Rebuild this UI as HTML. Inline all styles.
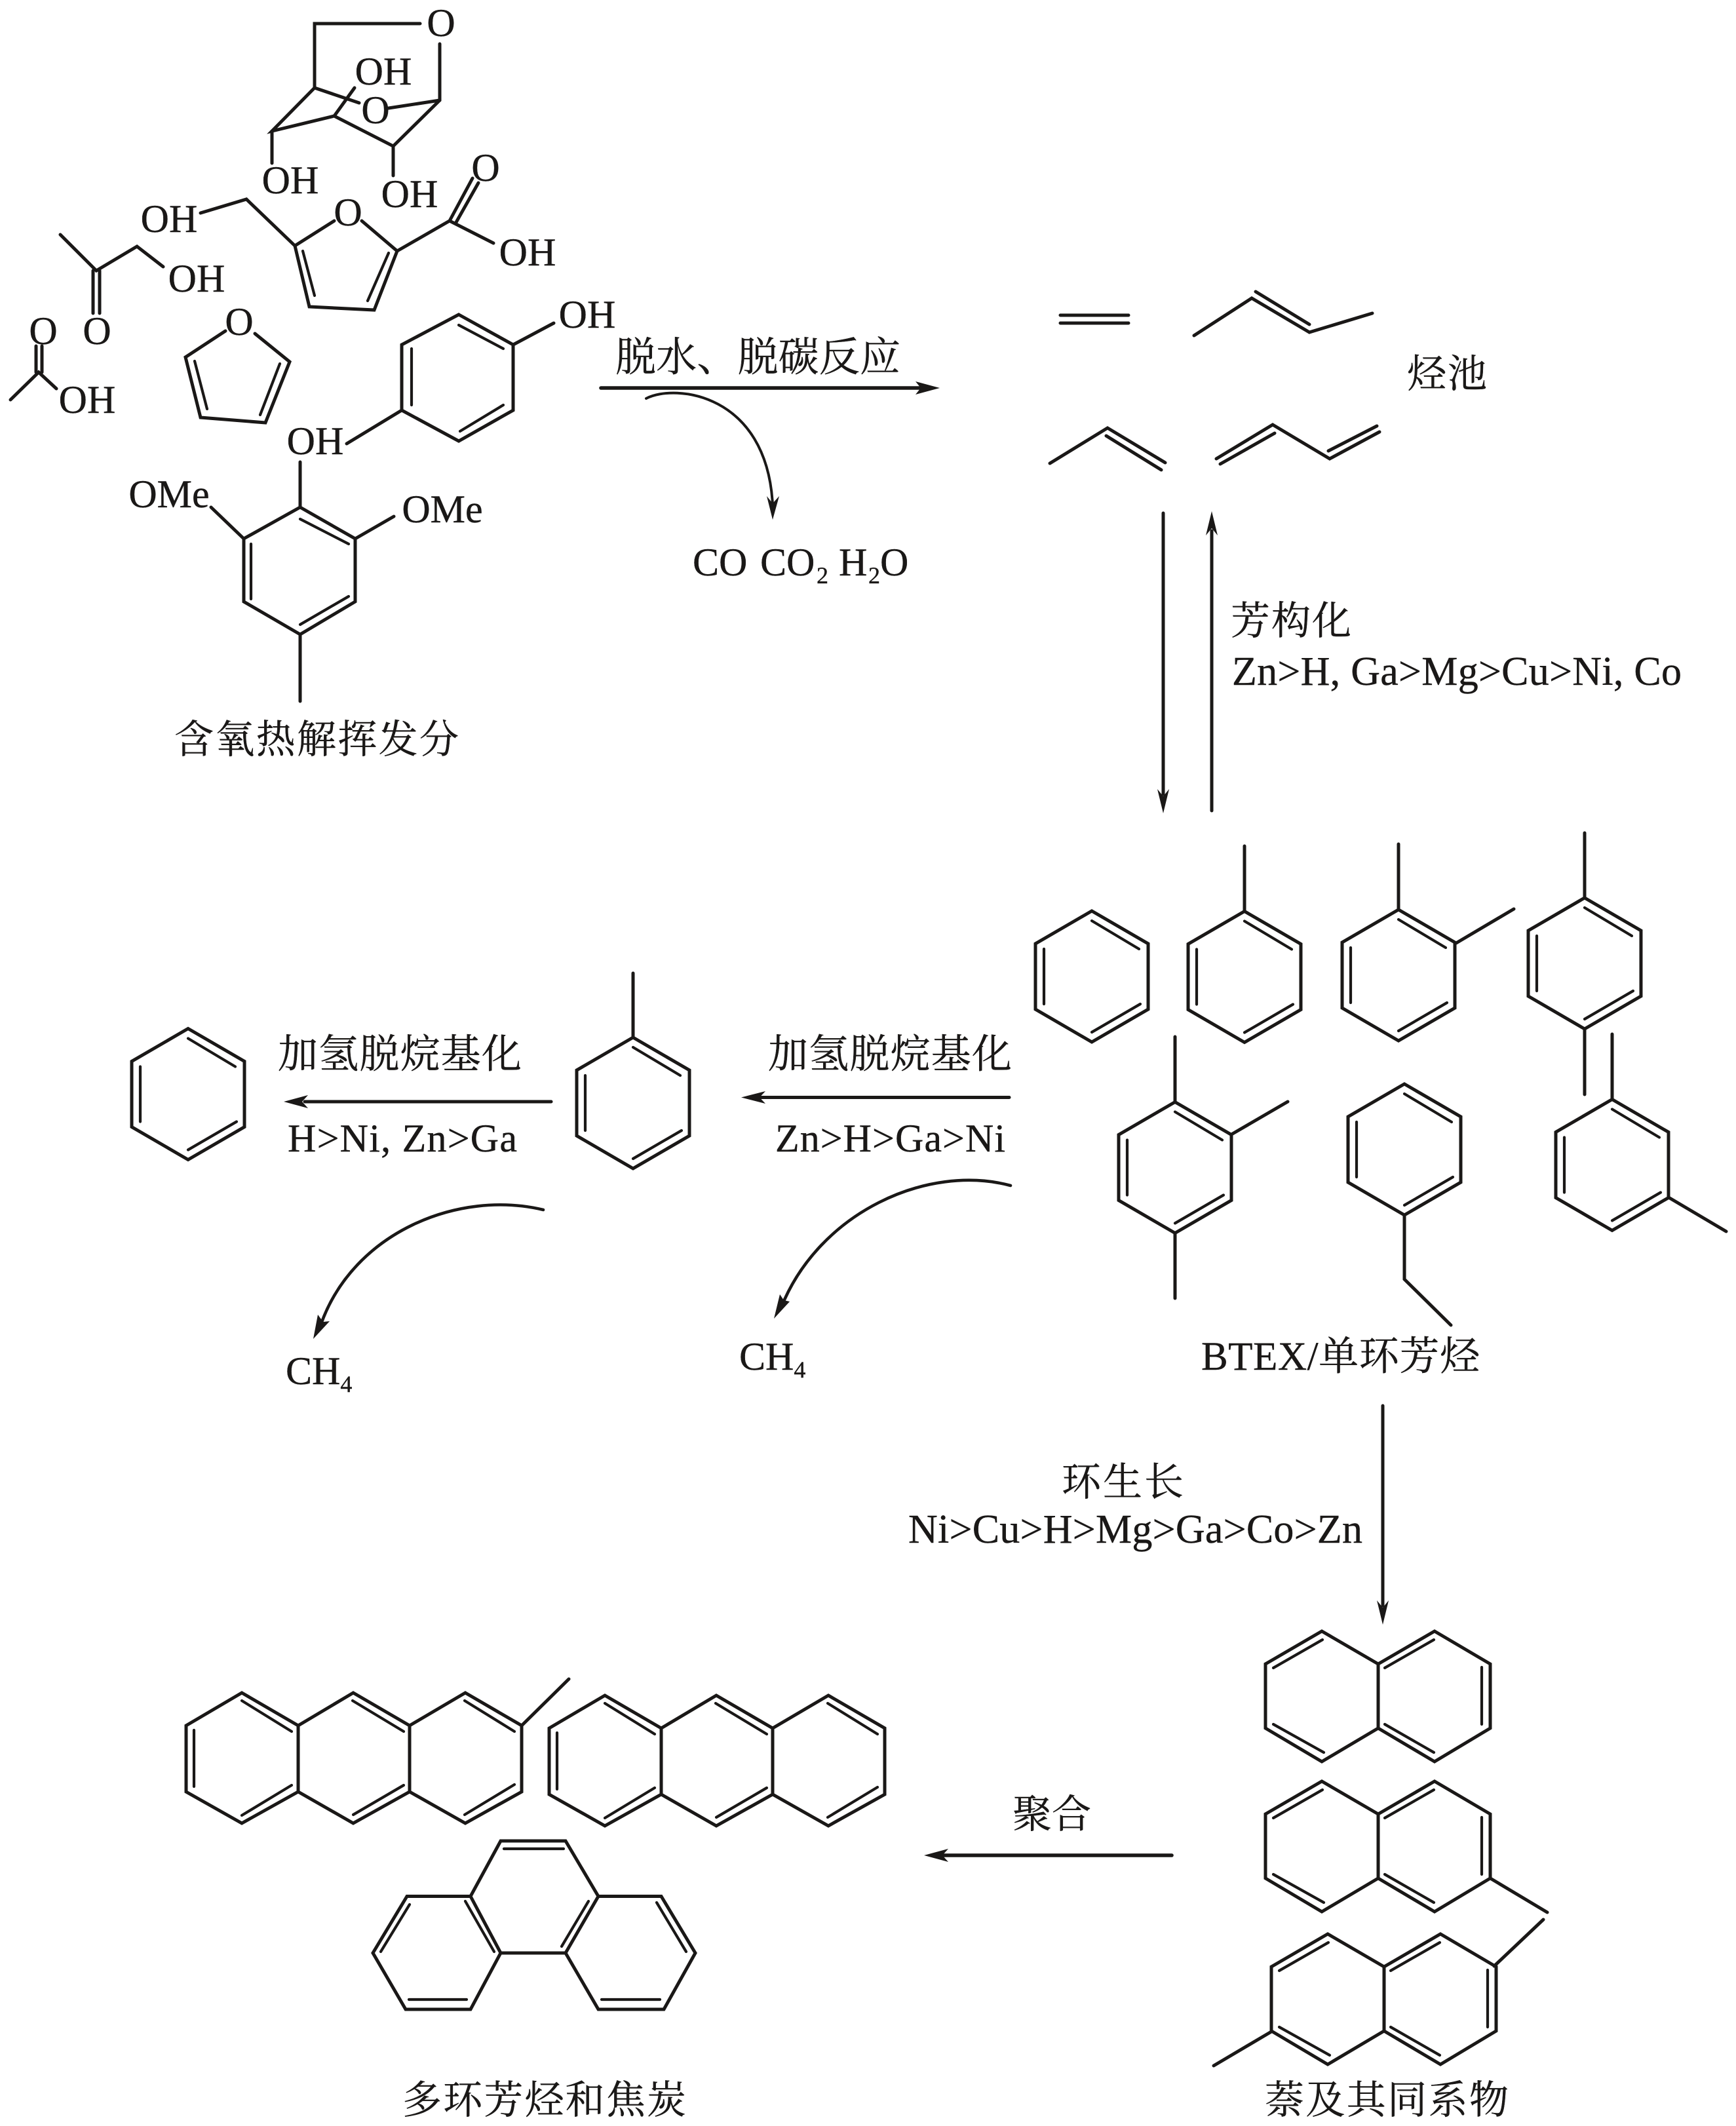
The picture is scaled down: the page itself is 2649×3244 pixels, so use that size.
<!DOCTYPE html>
<html lang="zh">
<head>
<meta charset="utf-8">
<title>Reaction pathway</title>
<style>
html,body{margin:0;padding:0;background:#fff;width:2649px;height:3244px;overflow:hidden}
svg{display:block}
text{font-family:"Liberation Serif","Noto Serif CJK SC",serif;font-size:60px;fill:#1a1817;stroke:#1a1817;stroke-width:.4}
.m{text-anchor:middle}
.s,.s *{fill:none;stroke:#1a1817;stroke-width:5;stroke-linecap:round;stroke-linejoin:miter}
.s .i,.i{stroke-width:4.2}
.h{fill:#1a1817;stroke:none}
</style>
</head>
<body>
<svg xmlns="http://www.w3.org/2000/svg" width="2649" height="3244" viewBox="0 0 2649 3244">
<rect width="2649" height="3244" fill="#fff"/>
<defs>
<g id="hex" class="s">
<path d="M0 -100L86 -50V50L0 100L-86 50V-50Z"/>
<path class="i" d="M0 -85L72 -42M-73 -42V42M0 85L74 42"/>
</g>
<g id="nap" class="s">
<path d="M-172 -49L-86 -99L0 -49L86 -99L171 -49V49L86 100L0 49L-86 100L-172 49ZM0 -49V49"/>
<path class="i" d="M-160 -43L-85 -86M-160 43L-83 86M10 -43L85 -86M158 -44V43M10 43L85 86"/>
</g>
<g id="ant" class="s">
<path d="M284 2633L369 2583L455 2633L539 2583L625 2633L710 2583L796 2633V2734L710 2782L625 2734L539 2782L455 2734L369 2782L284 2734ZM455 2633V2734M625 2633V2734"/>
<path class="i" d="M296 2640V2726M369 2595L445 2642M369 2770L445 2724M538 2595L616 2642M539 2769L616 2724M709 2595L785 2642M709 2769L785 2723"/>
</g>
</defs>

<!-- levoglucosan -->
<g class="s">
<path d="M641 36H480V134L415 200L510 177L600 223L671 153V67"/>
<path d="M671 153L593 165M480 134L548 157M510 177L541 134M415 200V249M600 223V268"/>
</g>
<text class="m" x="673" y="55">O</text>
<text class="m" x="585" y="129">OH</text>
<text class="m" x="573" y="188">O</text>
<text class="m" x="443" y="295">OH</text>
<text class="m" x="625" y="316">OH</text>

<!-- hydroxymethyl furoic acid -->
<g class="s">
<path d="M306 325L376 304L450 375L510 337M552 337L606 383L571 473L472 468L450 375"/>
<path class="i" d="M462 383L480 451M593 386L561 459"/>
<path d="M606 383L686 337L753 371M686 337L721 272M695 341L730 279"/>
</g>
<text class="m" x="258" y="354">OH</text>
<text class="m" x="531" y="344">O</text>
<text class="m" x="741" y="276">O</text>
<text class="m" x="805" y="405">OH</text>

<!-- hydroxyacetone -->
<g class="s"><path d="M92 358L147 413L209 376L249 407M142 413V478M152 413V478"/></g>
<text class="m" x="300" y="445">OH</text>
<text class="m" x="148" y="525">O</text>

<!-- acetic acid -->
<g class="s"><path d="M16 610L59 568L86 593M55 528V568M64 528V568"/></g>
<text class="m" x="66" y="525">O</text>
<text class="m" x="133" y="630">OH</text>

<!-- furan -->
<g class="s">
<path d="M344 505L283 545L306 637L405 645L442 552L389 509"/>
<path class="i" d="M297 551L316 624M427 555L397 633"/>
</g>
<text class="m" x="365" y="511">O</text>

<!-- phenol -->
<g class="s">
<path d="M700 480L783 526V626L700 673L613 626V526ZM783 526L845 493M613 626L529 677"/>
<path class="i" d="M700 496L768 532M628 532V618M702 658L768 618"/>
</g>
<text class="m" x="896" y="500">OH</text>
<text class="m" x="481" y="693">OH</text>

<!-- syringol -->
<g class="s">
<path d="M458 774L542 822V918L458 968L372 918V822ZM458 705V774M372 822L322 774M542 822L601 788M458 968V1070"/>
<path class="i" d="M458 792L532 830M383 830V914M458 953L532 910"/>
</g>
<text class="m" x="258" y="774">OMe</text>
<text class="m" x="675" y="797">OMe</text>
<text x="266" y="1149" textLength="434">含氧热解挥发分</text>

<!-- main arrow -->
<path class="s" style="stroke-width:5.6" d="M917 592H1405"/>
<path class="h" d="M1434 592L1397 582L1405 592L1397 602Z"/>
<text x="939" y="566" style="font-size:62px" textLength="435">脱水、脱碳反应</text>
<path class="s" style="stroke-width:4" d="M986 608C1030 585 1170 600 1179 770"/>
<path class="h" d="M1179 793L1170 757L1179 768L1189 757Z"/>
<text y="878" x="1057">CO<tspan x="1160">CO</tspan><tspan x="1246" y="890" style="font-size:36px">2</tspan><tspan x="1280" y="878">H</tspan><tspan x="1325" y="890" style="font-size:36px">2</tspan><tspan x="1343" y="878">O</tspan></text>

<!-- alkenes -->
<g class="s">
<path d="M1618 481H1722M1618 493H1722"/>
<path d="M1822 512L1910 455L1998 507L2094 478M1916 445L1998 495"/>
<path d="M1602 707L1690 653L1778 706M1688 665L1772 717"/>
<path d="M1856 700L1942 648L2029 700L2105 659M1862 708L1945 661M2027 688L2101 650"/>
</g>
<text x="2147" y="591" textLength="122">烃池</text>

<!-- vertical arrows -->
<path class="s" d="M1775 783V1212"/>
<path class="h" d="M1775 1241L1766 1204L1775 1215L1784 1204Z"/>
<path class="s" d="M1849 1237V810"/>
<path class="h" d="M1849 780L1840 817L1849 806L1858 817Z"/>
<text x="1878" y="968" textLength="184">芳构化</text>
<text x="1880" y="1045" style="font-size:62px" textLength="686">Zn&gt;H, Ga&gt;Mg&gt;Cu&gt;Ni, Co</text>

<!-- BTEX -->
<use href="#hex" x="1666" y="1490"/>
<use href="#hex" x="1899" y="1490.5"/>
<use href="#hex" x="2134" y="1488"/>
<use href="#hex" x="2418" y="1470"/>
<use href="#hex" x="1793" y="1781.5"/>
<use href="#hex" x="2143" y="1754"/>
<use href="#hex" x="2460" y="1777.5"/>
<g class="s">
<path d="M1899 1291V1391M2134 1288V1388M2222 1439L2310 1387M2418 1271V1370M2418 1570V1670"/>
<path d="M1793 1582V1682M1879 1731L1965 1681M1793 1881V1981"/>
<path d="M2143 1854V1952L2214 2022"/>
<path d="M2460 1578V1677M2546 1827L2634 1879"/>
</g>
<text x="1833" y="2090" style="font-size:61px" textLength="425">BTEX/单环芳烃</text>

<!-- middle row -->
<use href="#hex" x="966" y="1683"/>
<path class="s" d="M966 1485V1583"/>
<use href="#hex" x="287" y="1669.5"/>
<path class="s" d="M841 1681H465"/>
<path class="h" d="M433 1681L470 1671L461 1681L470 1691Z"/>
<path class="s" d="M1540 1674.5H1160"/>
<path class="h" d="M1131 1674.5L1168 1665L1159 1674.5L1168 1684Z"/>
<text x="424" y="1629" style="font-size:61px" textLength="372">加氢脱烷基化</text>
<text x="1172" y="1629" style="font-size:61px" textLength="372">加氢脱烷基化</text>
<text x="439" y="1757" textLength="350">H&gt;Ni, Zn&gt;Ga</text>
<text x="1183" y="1757" textLength="351">Zn&gt;H&gt;Ga&gt;Ni</text>
<path class="s" style="stroke-width:4.6" d="M829 1846C700 1815 540 1880 490 2020"/>
<path class="h" d="M478 2043L485 2006L493 2017L503 2016Z"/>
<path class="s" style="stroke-width:4.6" d="M1542 1809C1415 1775 1250 1850 1192 1995"/>
<path class="h" d="M1181 2012L1190 1975L1196 1984L1205 1986Z"/>
<text x="436" y="2112">CH<tspan y="2124" style="font-size:36px">4</tspan></text>
<text x="1128" y="2090">CH<tspan y="2102" style="font-size:36px">4</tspan></text>

<!-- ring growth -->
<path class="s" d="M2110 2145V2450"/>
<path class="h" d="M2110 2479L2101 2442L2110 2453L2119 2442Z"/>
<text x="1620" y="2282" textLength="186">环生长</text>
<text x="1386" y="2354" style="font-size:62px" textLength="693">Ni&gt;Cu&gt;H&gt;Mg&gt;Ga&gt;Co&gt;Zn</text>

<!-- naphthalenes -->
<use href="#nap" x="2103" y="2588"/>
<use href="#nap" x="2103" y="2817"/>
<use href="#nap" x="2112" y="3050"/>
<path class="s" d="M2274 2866L2361 2918M2280 3000L2355 2929M1940 3100L1852 3152"/>
<text x="1930" y="3225" textLength="372">萘及其同系物</text>

<!-- polymerization -->
<path class="s" style="stroke-width:5.6" d="M1788 2831H1440"/>
<path class="h" d="M1410 2831L1447 2821L1438 2831L1447 2841Z"/>
<text x="1545" y="2789" textLength="120">聚合</text>

<!-- PAHs -->
<use href="#ant"/>
<use href="#ant" x="554" y="4"/>
<path class="s" d="M796 2633L868 2562"/>
<g class="s">
<path d="M764 2809H863L913 2893.5H1009L1061 2980L1013 3066H913L863 2980H764L718 3066H619L569 2980L621 2893.5H718ZM718 2893.5L764 2980M913 2893.5L863 2980"/>
<path class="i" d="M769 2821H860M625 2906L581 2978M710 2901L754 2978M624 3051H712M898 2901L857 2970M1002 2903L1047 2978M918 3051H1007"/>
</g>
<text x="614" y="3225" textLength="433">多环芳烃和焦炭</text>
</svg>
</body>
</html>
